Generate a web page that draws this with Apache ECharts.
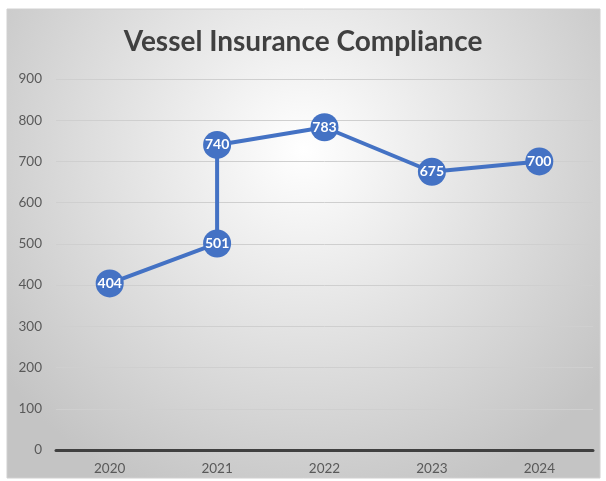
<!DOCTYPE html>
<html>
<head>
<meta charset="utf-8">
<script src="https://cdn.jsdelivr.net/npm/echarts@6/dist/echarts.min.js"></script>
<style>
  html, body { margin: 0; padding: 0; background: #fff; }
  #chart { width: 606px; height: 481px; }
</style>
</head>
<body>
<div id="chart"></div>
<script>
// categories on the x axis
const years = ["2020", "2021", "2022", "2023", "2024"];
// each point: which year it sits on, and its value (2021 has two)
const pointYears = ["2020", "2021", "2021", "2022", "2023", "2024"];
const pointValues = [404, 501, 740, 783, 675, 700];

const blue = "#4472c4";
const myChart = echarts.init(document.getElementById("chart"));

const option = {
  animation: false,
  graphic: [
    {
      type: "rect",
      z: -10,
      shape: { x: 7, y: 9, width: 593, height: 469 },
      style: {
        fill: {
          type: "radial", x: 0.5, y: 0.3, r: 0.8,
          colorStops: [
            { offset: 0, color: "#ffffff" },
            { offset: 1, color: "#c4c4c4" }
          ]
        },
        stroke: "#d0d0d0",
        lineWidth: 1
      }
    }
  ],
  title: {
    text: "Vessel Insurance Compliance",
    left: "center",
    top: 23,
    textStyle: {
      fontFamily: "Lato",
      fontWeight: "bold",
      fontSize: 28,
      color: "#404040"
    }
  },
  grid: { left: 56, right: 13, top: 79, bottom: 31 },
  xAxis: {
    type: "category",
    data: years,
    boundaryGap: true,
    axisTick: { show: false },
    axisLine: { lineStyle: { color: "#404040", width: 3 } },
    axisLabel: { color: "#595959", fontFamily: "Lato", fontSize: 13.5, margin: 12 }
  },
  yAxis: {
    type: "value",
    min: 0,
    max: 900,
    interval: 100,
    axisLine: { show: false },
    axisTick: { show: false },
    axisLabel: { color: "#595959", fontFamily: "Lato", fontSize: 13.5, margin: 14 },
    splitLine: { lineStyle: { color: "#cfcfcf", width: 1 } }
  },
  series: [
    {
      type: "line",
      data: pointYears.map((y, i) => [y, pointValues[i]]),
      lineStyle: { color: blue, width: 4 },
      itemStyle: { color: blue },
      symbol: "circle",
      symbolSize: 28,
      label: {
        show: true,
        position: "inside",
        color: "#fff",
        fontFamily: "Lato",
        fontWeight: "bold",
        fontSize: 14
      }
    }
  ]
};
myChart.setOption(option);
</script>
</body>
</html>
